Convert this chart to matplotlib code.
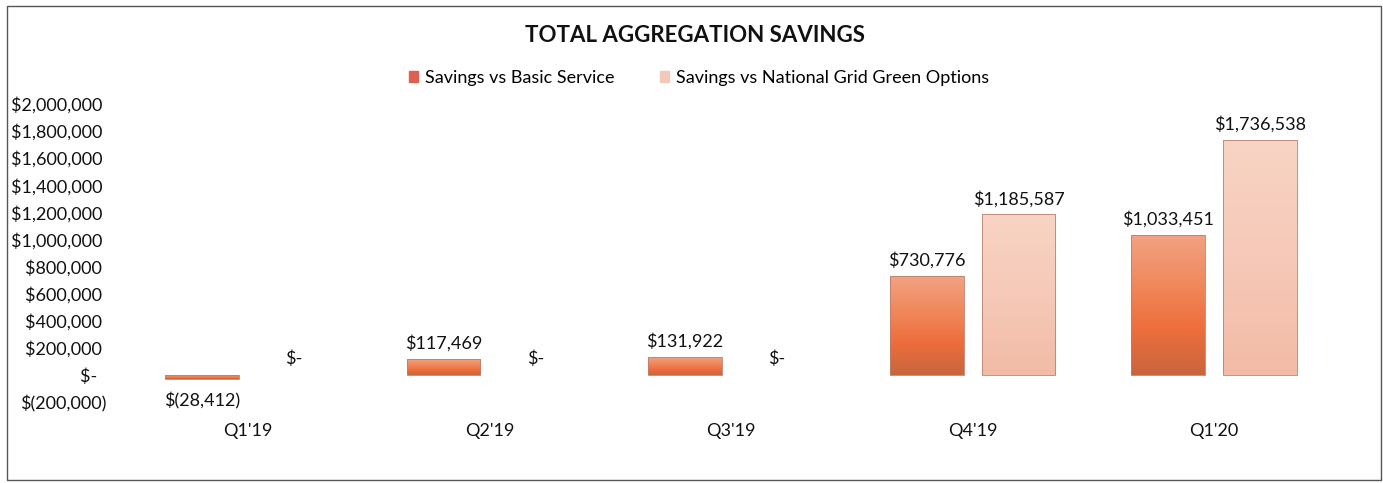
import numpy as np
import matplotlib
matplotlib.use("Agg")
import matplotlib.pyplot as plt
from matplotlib.patches import Rectangle
from matplotlib.colors import LinearSegmentedColormap

categories = ["Q1'19", "Q2'19", "Q3'19", "Q4'19", "Q1'20"]
basic_service = [-28412, 117469, 131922, 730776, 1033451]
green_options = [0, 0, 0, 1185587, 1736538]
series_names = ["Savings vs Basic Service", "Savings vs National Grid Green Options"]
y_ticks = [-200000, 0, 200000, 400000, 600000, 800000, 1000000,
           1200000, 1400000, 1600000, 1800000, 2000000]


def money(v):
    if v == 0:
        return "$-"
    if v < 0:
        return "$({:,.0f})".format(-v)
    return "${:,.0f}".format(v)


def axis_money(v):
    # accounting-style alignment: trailing room for ")" and the dash
    if v == 0:
        return "$-  "
    if v < 0:
        return money(v)
    return money(v) + " "


FONT = "Lato"
plt.rcParams['font.family'] = [FONT, 'DejaVu Sans']
FS = 13

W, H = 1383, 483
fig = plt.figure(figsize=(W / 100, H / 100), dpi=100)
ax = fig.add_axes([127 / W, 1 - 402 / H, (1335 - 127) / W, (402 - 104) / H])

x = np.arange(len(categories))
bw = 0.305
off = 0.19

bars1 = ax.bar(x - off, basic_service, bw, color="#EE7A4E", zorder=2)
bars2 = ax.bar(x + off, green_options, bw, color="#F7CDBB", zorder=2)

cmap1 = LinearSegmentedColormap.from_list("b1", ["#C9653F", "#EE6E3C", "#F08A5E", "#F2A283"])
cmap2 = LinearSegmentedColormap.from_list("b2", ["#F2BBA6", "#F6C9B8", "#F8D4C4"])
grad = np.linspace(0, 1, 256).reshape(-1, 1)

for bars, cmap in ((bars1, cmap1), (bars2, cmap2)):
    for b in bars:
        h = b.get_height()
        if h == 0:
            continue
        x0 = b.get_x()
        y0, y1 = sorted([b.get_y(), b.get_y() + h])
        im = ax.imshow(grad, cmap=cmap, extent=[x0, x0 + b.get_width(), y0, y1],
                       aspect='auto', origin='lower', zorder=2.5, interpolation='bilinear')
        im.set_clip_path(b)
        b.set_edgecolor("#B88070")
        b.set_linewidth(0.6)
        b.set_zorder(3)
        b.set_facecolor("none")

ax.set_xlim(-0.5, len(categories) - 0.5)
ax.set_ylim(-200000, 2000000)
ax.set_yticks(y_ticks)
ax.set_yticklabels([axis_money(v) for v in y_ticks], fontsize=FS, color="#111111")
ax.set_xticks(x)
ax.set_xticklabels(categories, fontsize=FS, color="#111111")
ax.tick_params(axis='both', length=0)
ax.tick_params(axis='y', pad=14.5)
ax.tick_params(axis='x', pad=15)
for s in ax.spines.values():
    s.set_visible(False)

# data labels
for b, v in zip(bars1, basic_service):
    cx = b.get_x() + b.get_width() / 2
    if v < 0:
        ax.annotate(money(v), (cx, v), xytext=(0, -10), textcoords='offset points',
                    ha='center', va='top', fontsize=FS, color="#111111")
    else:
        ax.annotate(money(v), (cx, v), xytext=(0, 5), textcoords='offset points',
                    ha='center', va='bottom', fontsize=FS, color="#111111")
for b, v in zip(bars2, green_options):
    cx = b.get_x() + b.get_width() / 2
    ax.annotate(money(v), (cx, v), xytext=(0, 5 if v else 6), textcoords='offset points',
                ha='center', va='bottom', fontsize=FS, color="#111111")

fig.text(695 / W, 1 - 35 / H, "TOTAL AGGREGATION SAVINGS", ha='center', va='center',
         fontsize=16, fontweight='bold', color="#111111")

handles = [Rectangle((0, 0), 1, 1, color="#E0604F"), Rectangle((0, 0), 1, 1, color="#F2C9B8")]
fig.legend(handles, series_names, loc='center', bbox_to_anchor=(699 / W, 1 - 78 / H),
           ncol=2, frameon=False, fontsize=FS, handlelength=0.5, handleheight=0.5,
           handletextpad=0.4, columnspacing=2.5)

# outer border
border = Rectangle((7 / W, 3 / H), (1381 - 7) / W, (477 - 3) / H, transform=fig.transFigure,
                   fill=False, edgecolor="#555555", linewidth=1.0)
fig.patches.append(border)

fig.savefig("out.png", dpi=100, facecolor="white")
